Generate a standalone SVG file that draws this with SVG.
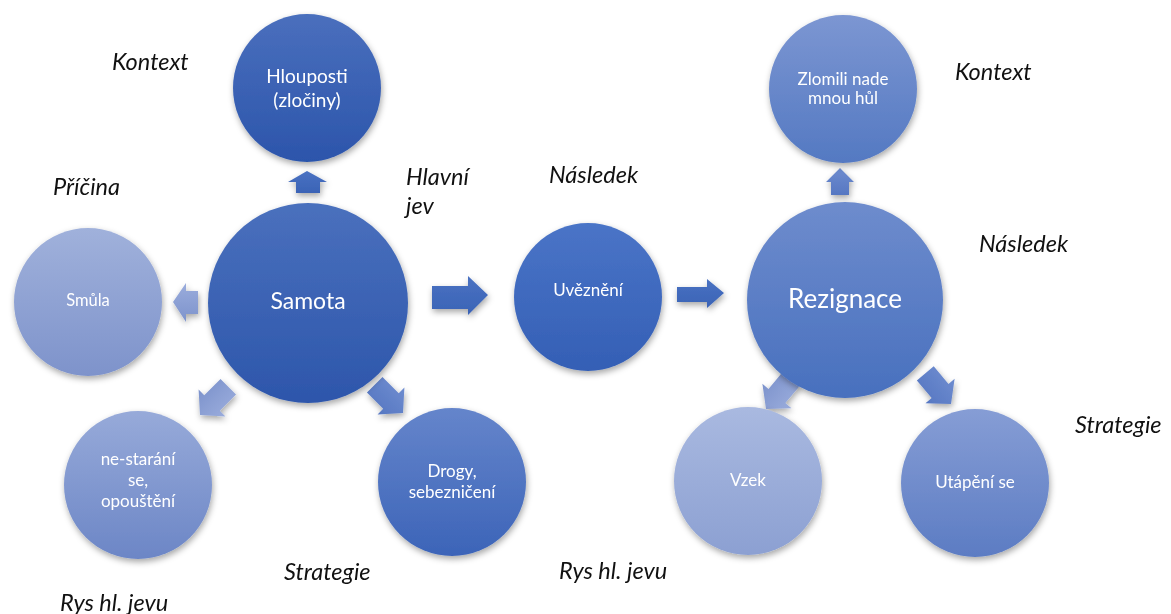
<svg xmlns="http://www.w3.org/2000/svg" width="1171" height="614" viewBox="0 0 1171 614">
<defs>
<filter id="sh" x="-20%" y="-20%" width="140%" height="150%">
<feDropShadow dx="1" dy="3" stdDeviation="3" flood-color="#000" flood-opacity="0.35"/>
</filter>
<linearGradient id="gDark" x1="0" y1="0" x2="0" y2="1"><stop offset="0" stop-color="#4a70bd"/><stop offset="1" stop-color="#2d56ab"/></linearGradient>
<linearGradient id="gHl" x1="0" y1="0" x2="0" y2="1"><stop offset="0" stop-color="#4a6fbd"/><stop offset="1" stop-color="#2c55ab"/></linearGradient>
<linearGradient id="gUv" x1="0" y1="0" x2="0" y2="1"><stop offset="0" stop-color="#4a74c7"/><stop offset="1" stop-color="#345fb5"/></linearGradient>
<linearGradient id="gDr" x1="0" y1="0" x2="0" y2="1"><stop offset="0" stop-color="#6585cb"/><stop offset="1" stop-color="#3c64b8"/></linearGradient>
<linearGradient id="gSm" x1="0" y1="0" x2="0" y2="1"><stop offset="0" stop-color="#a0b1db"/><stop offset="1" stop-color="#7e93cb"/></linearGradient>
<linearGradient id="gNe" x1="0" y1="0" x2="0" y2="1"><stop offset="0" stop-color="#97aad9"/><stop offset="1" stop-color="#6c86c6"/></linearGradient>
<linearGradient id="gRz" x1="0" y1="0" x2="0" y2="1"><stop offset="0" stop-color="#6e8ccd"/><stop offset="1" stop-color="#4870be"/></linearGradient>
<linearGradient id="gZl" x1="0" y1="0" x2="0" y2="1"><stop offset="0" stop-color="#7c96d2"/><stop offset="1" stop-color="#5479c2"/></linearGradient>
<linearGradient id="gVz" x1="0" y1="0" x2="0" y2="1"><stop offset="0" stop-color="#a9b9e0"/><stop offset="1" stop-color="#8ca0d2"/></linearGradient>
<linearGradient id="gUt" x1="0" y1="0" x2="0" y2="1"><stop offset="0" stop-color="#869dd5"/><stop offset="1" stop-color="#5c7cc3"/></linearGradient>
<linearGradient id="aDark" x1="0" y1="0" x2="0" y2="1"><stop offset="0" stop-color="#4a72c2"/><stop offset="1" stop-color="#3a63b6"/></linearGradient>
<linearGradient id="aMid" x1="0" y1="0" x2="0" y2="1"><stop offset="0" stop-color="#6e8ccf"/><stop offset="1" stop-color="#5677c2"/></linearGradient>
<linearGradient id="aLight" x1="0" y1="0" x2="0" y2="1"><stop offset="0" stop-color="#9aacdc"/><stop offset="1" stop-color="#7d93cc"/></linearGradient>
<polygon id="diag" points="0,-11 23,-11 23,-19 40,0 23,19 23,11 0,11"/>
</defs>
<style>
.lbl{font-family:Lato,"Liberation Sans",sans-serif;font-style:italic;font-size:23.5px;fill:#111}
.ct{font-family:Lato,"Liberation Sans",sans-serif;fill:#fff;text-anchor:middle}
.node circle{filter:url(#sh)}
</style>

<g id="connectors" filter="url(#sh)">
<polygon fill="url(#aDark)" points="307,171 327,182 320,182 320,193 296,193 296,182 288,182"/>
<polygon fill="url(#aLight)" points="173,302 186,283 186,291 198,291 198,314 186,314 186,322"/>
<use href="#diag" fill="url(#aLight)" transform="translate(200,415) rotate(135) translate(-40,0)"/>
<use href="#diag" fill="url(#aMid)" transform="translate(403,413) rotate(45) translate(-40,0)"/>
<polygon fill="url(#aDark)" points="432,286 468,286 468,276 488,295 468,315 468,309 432,309"/>
<polygon fill="url(#aDark)" points="677,287 707,287 707,279 724,293 707,308 707,302 677,302"/>
<polygon fill="url(#aMid)" points="840,168 854,182 849,182 849,195 831,195 831,182 826,182"/>
<use href="#diag" fill="url(#aLight)" transform="translate(766,409) rotate(130) translate(-40,0)"/>
<use href="#diag" fill="url(#aMid)" transform="translate(951,404) rotate(50) translate(-40,0)"/>
</g>

<g id="samota" class="node"><circle cx="308" cy="303" r="100" fill="url(#gDark)"/><text class="ct" x="308" y="309" font-size="23">Samota</text></g>
<g id="hlouposti" class="node"><circle cx="307" cy="88" r="74" fill="url(#gHl)"/><text class="ct" x="307" y="83" font-size="19">Hlouposti</text><text class="ct" x="307" y="107" font-size="19">(zločiny)</text></g>
<g id="smula" class="node"><circle cx="88" cy="302" r="74" fill="url(#gSm)"/><text class="ct" x="88" y="306" font-size="16.5">Smůla</text></g>
<g id="nestarani" class="node"><circle cx="138" cy="485" r="74" fill="url(#gNe)"/><text class="ct" x="138" y="465" font-size="17">ne-starání</text><text class="ct" x="138" y="486" font-size="17">se,</text><text class="ct" x="138" y="507" font-size="17">opouštění</text></g>
<g id="drogy" class="node"><circle cx="452" cy="482" r="74" fill="url(#gDr)"/><text class="ct" x="452" y="477" font-size="17">Drogy,</text><text class="ct" x="452" y="498" font-size="17">sebezničení</text></g>
<g id="uvezneni" class="node"><circle cx="588" cy="297" r="74" fill="url(#gUv)"/><text class="ct" x="588" y="296" font-size="17">Uvěznění</text></g>
<g id="rezignace" class="node"><circle cx="845" cy="300" r="98" fill="url(#gRz)"/><text class="ct" x="845" y="308" font-size="26">Rezignace</text></g>
<g id="zlomili" class="node"><circle cx="843" cy="89" r="74" fill="url(#gZl)"/><text class="ct" x="843" y="85" font-size="17">Zlomili nade</text><text class="ct" x="843" y="104" font-size="17">mnou hůl</text></g>
<g id="vzek" class="node"><circle cx="748" cy="481" r="74" fill="url(#gVz)"/><text class="ct" x="748" y="486" font-size="17">Vzek</text></g>
<g id="utapeni" class="node"><circle cx="975" cy="483" r="74" fill="url(#gUt)"/><text class="ct" x="975" y="488" font-size="17">Utápění se</text></g>

<g id="labels">
<text class="lbl" x="112" y="70">Kontext</text>
<text class="lbl" x="53" y="195">Příčina</text>
<text class="lbl" x="406" y="185">Hlavní</text>
<text class="lbl" x="406" y="214">jev</text>
<text class="lbl" x="549" y="183">Následek</text>
<text class="lbl" x="955" y="80">Kontext</text>
<text class="lbl" x="979" y="252">Následek</text>
<text class="lbl" x="1075" y="433">Strategie</text>
<text class="lbl" x="284" y="580">Strategie</text>
<text class="lbl" x="60" y="611">Rys hl. jevu</text>
<text class="lbl" x="559" y="579">Rys hl. jevu</text>
</g>
</svg>
